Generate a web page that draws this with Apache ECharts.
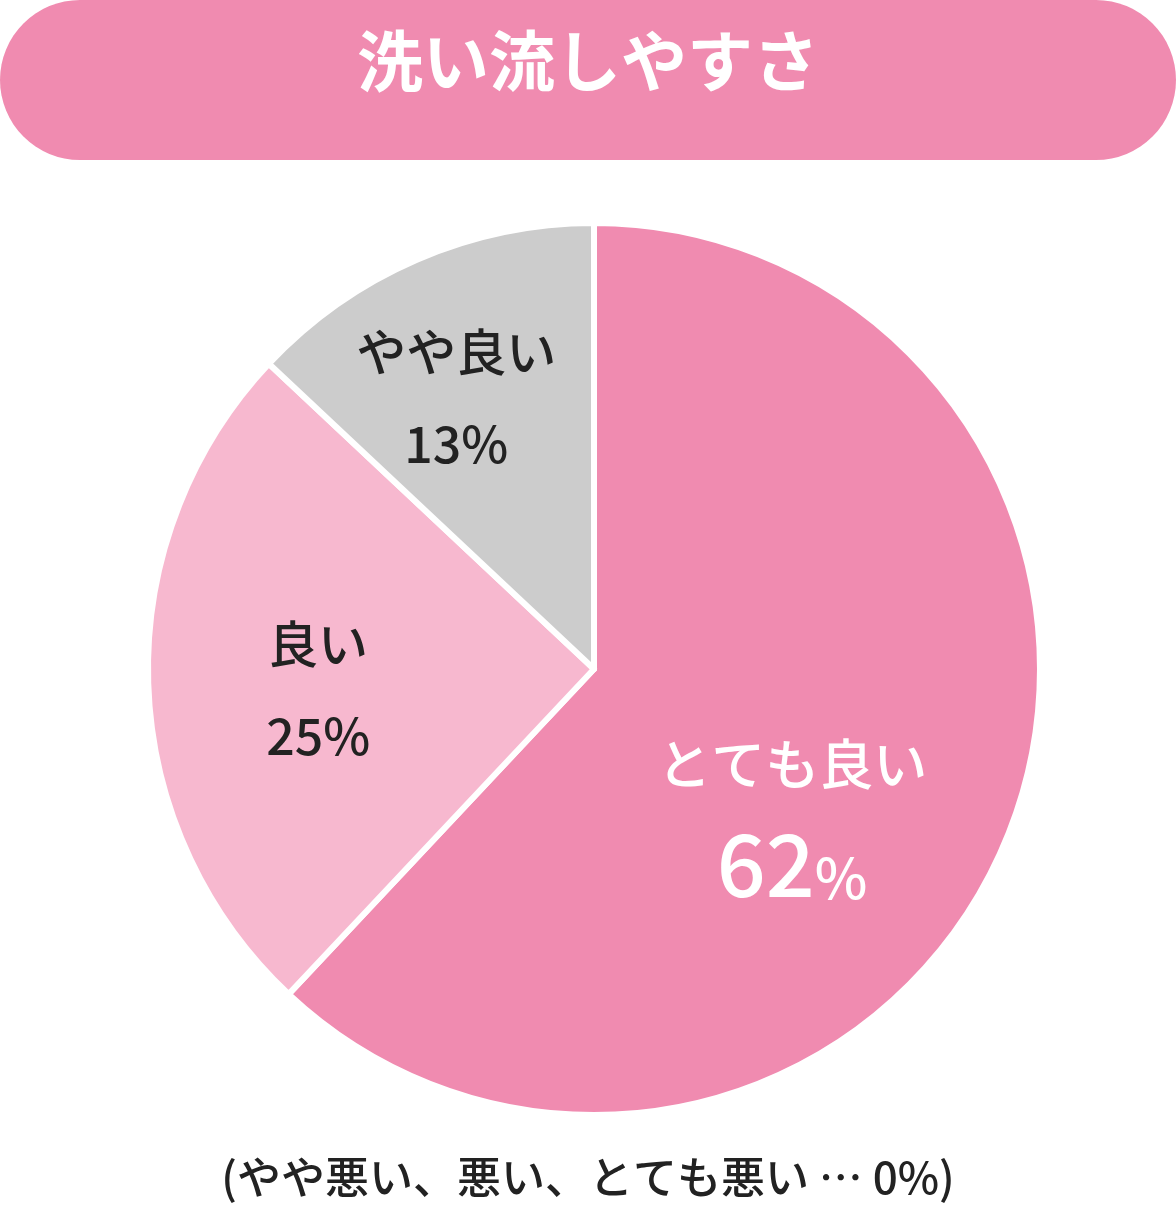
<!DOCTYPE html>
<html><head><meta charset="utf-8">
<script src="https://cdn.jsdelivr.net/npm/echarts@6/dist/echarts.min.js"></script>
<style>html,body{margin:0;padding:0;background:#fff}#c{width:1176px;height:1224px}</style>
</head><body><div id="c"></div>
<script>
const titleText = '洗い流しやすさ';
const names = ['とても良い', '良い', 'やや良い'];
const values = [62, 25, 13];
const colors = ['#f08bb0', '#f7b8cf', '#cccccc'];
const footer = '(やや悪い、悪い、とても悪い … 0%)';

const offsets = [[-12, 62], [-50, 14], [-48, -64]];
const F = '"Noto Sans CJK JP", sans-serif';
const data = names.map((n, i) => {
  const big = i === 0;
  return {
    name: n, value: values[i],
    itemStyle: { color: colors[i] },
    label: {
      offset: offsets[i],
      formatter: big ? '{n|{b}}\n{v|{c}}{p|%}' : '{n|{b}}\n{s|{c}%}',
      rich: {
        n: { fontFamily: F, fontSize: big ? 54 : 50, fontWeight: 500, color: big ? '#fff' : '#222', lineHeight: big ? 100 : 92 },
        v: { fontFamily: F, fontSize: 86, fontWeight: 500, color: '#fff', lineHeight: 100 },
        p: { fontFamily: F, fontSize: 56, fontWeight: 500, color: '#fff', lineHeight: 100, verticalAlign: 'bottom', padding: [0, 0, 8, 0] },
        s: { fontFamily: F, fontSize: 50, fontWeight: 500, color: '#222', lineHeight: 92 }
      }
    }
  };
});

const chart = echarts.init(document.getElementById('c'));
chart.setOption({
  animation: false,
  graphic: [
    { type: 'rect', shape: { x: 0, y: 0, width: 1176, height: 160, r: 80 }, style: { fill: '#f08bb0' } },
    { type: 'text', left: 'center', top: 28, style: { text: titleText, font: '700 66px "Noto Sans CJK JP"', fill: '#fff' } },
    { type: 'text', left: 'center', top: 1155, style: { text: footer, font: '500 44px "Noto Sans CJK JP"', fill: '#222' } }
  ],
  series: [{
    type: 'pie',
    center: [594, 669],
    radius: [0, 446],
    startAngle: 90,
    clockwise: true,
    itemStyle: { borderColor: '#fff', borderWidth: 6 },
    label: { show: true, position: 'inside', align: 'center' },
    labelLine: { show: false },
    emphasis: { disabled: true },
    data: data
  }]
});
</script></body></html>
